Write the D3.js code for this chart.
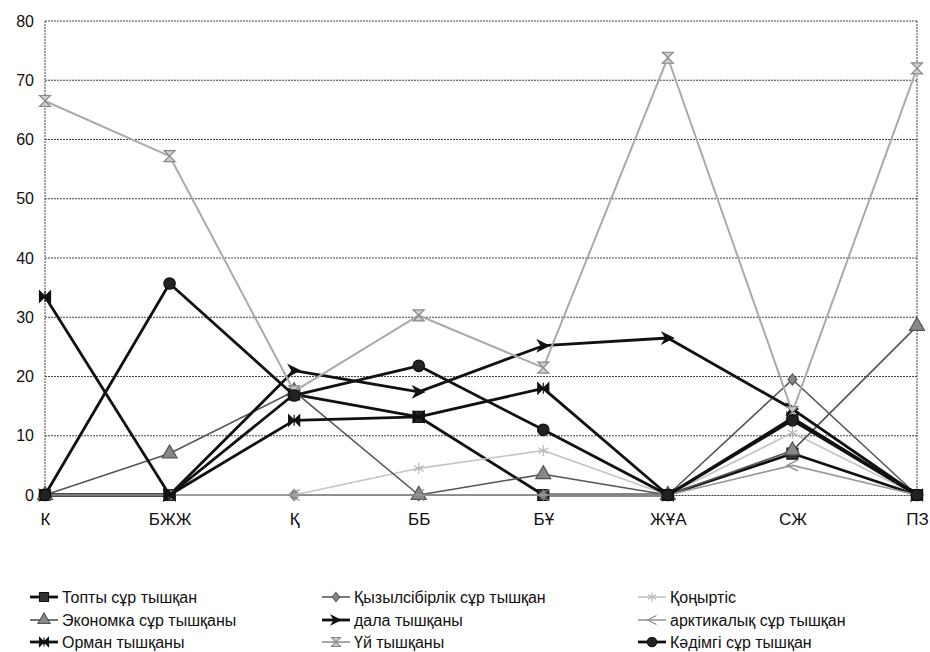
<!DOCTYPE html>
<html>
<head>
<meta charset="utf-8">
<script src="https://cdn.jsdelivr.net/npm/d3@7/dist/d3.min.js"></script>
<style>
  html, body { margin: 0; padding: 0; background: #fff; }
  svg { display: block; font-family: "Liberation Sans", Arial, sans-serif; }
</style>
</head>
<body>
<svg id="chart" width="930" height="652"></svg>
<script>
// Categories along the x axis
const categories = ["К", "БЖЖ", "Қ", "ББ", "БҰ", "ЖҰА", "СЖ", "ПЗ"];
const yTicks = [0, 10, 20, 30, 40, 50, 60, 70, 80];

// Series names (legend order)
const seriesNames = [
  "Топты сұр тышқан",
  "Қызылсібірлік сұр тышқан",
  "Қоңыртіс",
  "Экономка сұр тышқаны",
  "дала тышқаны",
  "арктикалық сұр тышқан",
  "Орман тышқаны",
  "Үй тышқаны",
  "Кәдімгі сұр тышқан"
];

// Series values, one array per series
const toptySur      = [0, 0, 17, 13.2, 0, 0, 7, 0];
const kyzylsibirlik = [0, 0, 0, 0, 0, 0, 19.5, 0];
const konyrtis      = [0, 0, 0, 4.5, 7.5, 0, 10.5, 0];
const ekonomka      = [0, 7, 17.5, 0, 3.5, 0, 7.5, 28.5];
const dala          = [0, 0, 21, 17.4, 25.2, 26.5, 14.5, 0];
const arktikalyk    = [0, 0, 0, 0, 0, 0, 5, 0];
const orman         = [33.5, 0, 12.6, 13.2, 18, 0, 13, 0];
const ui            = [66.5, 57.2, 17.5, 30.3, 21.5, 73.8, 14, 72];
const kadimgi       = [0, 35.7, 16.8, 21.8, 11, 0, 12.6, 0];

const seriesValues = [toptySur, kyzylsibirlik, konyrtis, ekonomka, dala, arktikalyk, orman, ui, kadimgi];

// Drawing style for each series: line colour/width and marker kind
const styles = [
  { stroke: "#111", width: 2.8, marker: "square",   fill: "#333", mstroke: "#111" },
  { stroke: "#555", width: 1.6, marker: "diamond",  fill: "#888", mstroke: "#555" },
  { stroke: "#c4c4c4", width: 1.6, marker: "asterisk", fill: "none", mstroke: "#b8b8b8" },
  { stroke: "#555", width: 1.6, marker: "triangle", fill: "#888", mstroke: "#555" },
  { stroke: "#111", width: 2.8, marker: "arrowRight", fill: "#111", mstroke: "#111" },
  { stroke: "#9a9a9a", width: 1.6, marker: "arrowLeft", fill: "none", mstroke: "#888" },
  { stroke: "#111", width: 2.8, marker: "bowtie",   fill: "#111", mstroke: "#111" },
  { stroke: "#aaaaaa", width: 2,   marker: "hourglass", fill: "#cfcfcf", mstroke: "#888" },
  { stroke: "#111", width: 2.8, marker: "circle",   fill: "#222", mstroke: "#111" }
];

const svg = d3.select("#chart");
const plot = { left: 45, right: 917, top: 21, bottom: 495 };

const x = d3.scalePoint().domain(categories).range([plot.left, plot.right]);
const y = d3.scaleLinear().domain([0, 80]).range([plot.bottom, plot.top]);

// Horizontal gridlines
svg.append("g")
  .selectAll("line")
  .data(yTicks.filter(d => d > 0))
  .join("line")
  .attr("x1", plot.left).attr("x2", plot.right)
  .attr("y1", d => y(d)).attr("y2", d => y(d))
  .attr("stroke", "#444").attr("stroke-width", 1)
  .attr("stroke-dasharray", "2,1");

// Plot frame (left and right edges dotted)
svg.append("line")
  .attr("x1", plot.left).attr("x2", plot.left)
  .attr("y1", plot.top).attr("y2", plot.bottom)
  .attr("stroke", "#444").attr("stroke-dasharray", "2,1");
svg.append("line")
  .attr("x1", plot.right).attr("x2", plot.right)
  .attr("y1", plot.top).attr("y2", plot.bottom)
  .attr("stroke", "#444").attr("stroke-dasharray", "2,1");

// Y axis labels
const yAxis = d3.axisLeft(y).tickValues(yTicks).tickSize(0).tickPadding(11);
svg.append("g")
  .attr("transform", `translate(${plot.left},0)`)
  .call(yAxis)
  .call(g => g.select(".domain").remove())
  .selectAll("text")
  .attr("font-size", 16)
  .attr("fill", "#111")
  .attr("font-family", "Liberation Sans, Arial, sans-serif");

// X axis (baseline at zero)
const xAxis = d3.axisBottom(x).tickSize(0).tickPadding(18);
svg.append("g")
  .attr("transform", `translate(0,${plot.bottom})`)
  .call(xAxis)
  .call(g => g.select(".domain")
    .attr("stroke", "#333").attr("stroke-width", 1).attr("stroke-dasharray", "2,1"))
  .selectAll("text")
  .attr("font-size", 17)
  .attr("fill", "#111")
  .attr("font-family", "Liberation Sans, Arial, sans-serif");

// Marker shapes
function markerPath(kind, s) {
  switch (kind) {
    case "square":    return d3.symbol(d3.symbolSquare, s * s * 4)();
    case "diamond":   return `M0,${-s}L${s * 0.8},0L0,${s}L${-s * 0.8},0Z`;
    case "triangle":  return d3.symbol(d3.symbolTriangle, s * s * 3.2)();
    case "circle":    return d3.symbol(d3.symbolCircle, s * s * 3.4)();
    case "asterisk":  return d3.symbol(d3.symbolAsterisk, s * s * 3)();
    case "arrowRight":return `M${-s},${-s}L${s},0L${-s},${s}L${-s * 0.4},0Z`;
    case "arrowLeft": return `M${s},${-s}L${-s},0L${s},${s}`;
    case "bowtie":    return `M${-s},${-s}L0,0L${-s},${s}ZM${s},${-s}L0,0L${s},${s}ZM0,${-s}L0,${s}`;
    case "hourglass": return `M${-s},${-s}L${s},${-s}L0,0ZM${-s},${s}L${s},${s}L0,0Z`;
  }
  return "";
}

const line = d3.line().x((d, i) => x(categories[i])).y(d => y(d));

const seriesG = svg.append("g");
seriesValues.forEach((vals, k) => {
  const st = styles[k];
  const g = seriesG.append("g");
  g.append("path")
    .attr("d", line(vals))
    .attr("fill", "none")
    .attr("stroke", st.stroke)
    .attr("stroke-width", st.width)
    .attr("stroke-linejoin", "round");
  g.selectAll("path.m")
    .data(vals)
    .join("path")
    .attr("class", "m")
    .attr("transform", (d, i) => `translate(${x(categories[i])},${y(d)})`)
    .attr("d", markerPath(st.marker, 5.5))
    .attr("fill", st.fill)
    .attr("stroke", st.mstroke)
    .attr("stroke-width", 1.2);
});

// Legend: three columns, three rows
const legendCols = [30, 322, 638];
const legendRows = [597, 620, 642];
const legend = svg.append("g");
seriesNames.forEach((name, k) => {
  const st = styles[k];
  const lx = legendCols[k % 3];
  const ly = legendRows[Math.floor(k / 3)];
  const g = legend.append("g").attr("transform", `translate(${lx},${ly})`);
  g.append("line")
    .attr("x1", 0).attr("x2", 28).attr("y1", 0).attr("y2", 0)
    .attr("stroke", st.stroke).attr("stroke-width", st.width);
  g.append("path")
    .attr("transform", "translate(14,0)")
    .attr("d", markerPath(st.marker, 4.5))
    .attr("fill", st.fill)
    .attr("stroke", st.mstroke)
    .attr("stroke-width", 1.1);
  g.append("text")
    .attr("x", 32).attr("y", 0).attr("dy", "0.35em")
    .attr("font-size", 16)
    .attr("fill", "#111")
    .text(name);
});
</script>
</body>
</html>
